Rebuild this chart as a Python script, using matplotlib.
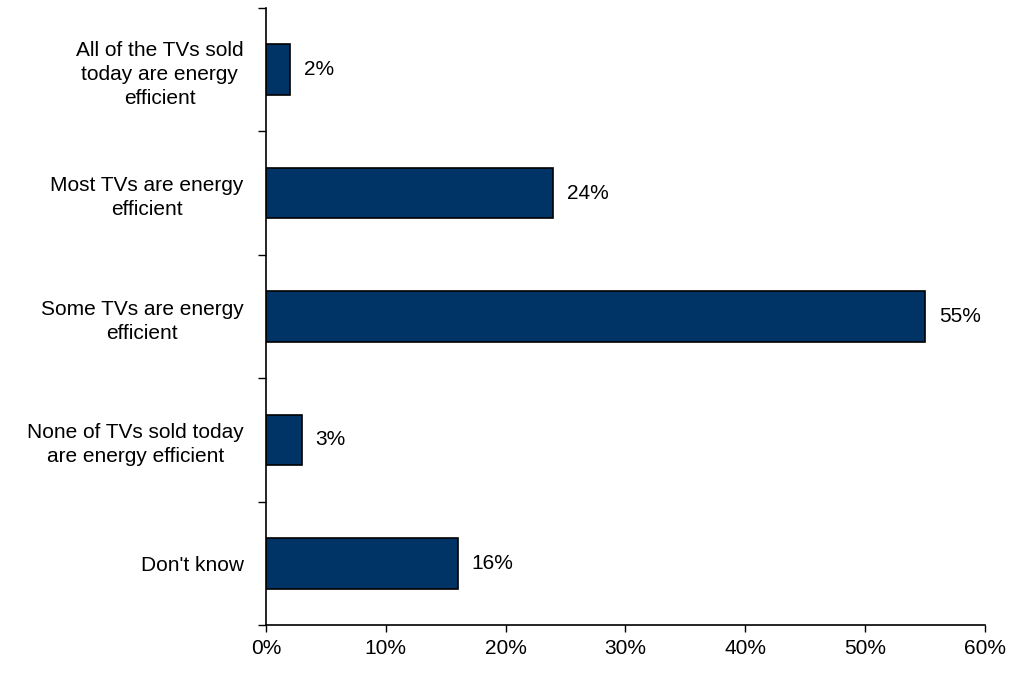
import matplotlib.pyplot as plt
import numpy as np
from matplotlib.ticker import FixedLocator, NullFormatter

plt.rcParams['font.family'] = ['Liberation Sans', 'DejaVu Sans']

# data
categories = ['All of the TVs sold\ntoday are energy\nefficient',
              'Most TVs are energy\nefficient',
              'Some TVs are energy\nefficient',
              'None of TVs sold today\nare energy efficient',
              "Don't know"]
values = [2, 24, 55, 3, 16]
x_ticks = [0, 10, 20, 30, 40, 50, 60]

fs = 15

fig = plt.figure(figsize=(10.11, 6.73), dpi=100)
ax = fig.add_axes([0.263, 0.0713, 0.711, 0.9168])

pos = np.arange(len(categories))[::-1]
ax.barh(pos, values, height=0.41, color='#003366', edgecolor='black', linewidth=1.2)

for p, v in zip(pos, values):
    ax.annotate('%d%%' % v, (v, p), xytext=(10, 0), textcoords='offset points',
                va='center', ha='left', fontsize=fs)

ax.set_xlim(0, 60)
ax.set_ylim(-0.5, len(categories) - 0.5)
ax.set_xticks(x_ticks)
ax.set_xticklabels(['%d%%' % t for t in x_ticks], fontsize=fs)
ax.tick_params(axis='x', length=5, width=1, pad=5)

# y ticks sit between categories, labels sit on bar centres
ax.yaxis.set_major_locator(FixedLocator(np.arange(-0.5, len(categories), 1.0)))
ax.yaxis.set_major_formatter(NullFormatter())
ax.tick_params(axis='y', which='major', length=6, width=1)
ax.set_yticks(pos, minor=True)
ax.set_yticklabels(categories, minor=True, fontsize=fs, multialignment='center',
                   linespacing=1.35)
ax.tick_params(axis='y', which='minor', length=0, pad=16)

for s in ['top', 'right']:
    ax.spines[s].set_visible(False)
for s in ['left', 'bottom']:
    ax.spines[s].set_linewidth(1.2)

fig.savefig('out.png', dpi=100)
